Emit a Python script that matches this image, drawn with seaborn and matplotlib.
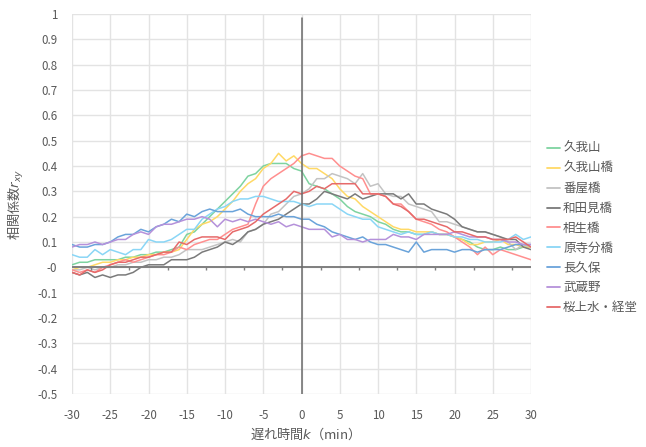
import numpy as np
import pandas as pd
import matplotlib
matplotlib.use("Agg")
import matplotlib.pyplot as plt
import seaborn as sns

lags = list(range(-30, 31))

series_names = ["久我山", "久我山橋", "番屋橋", "和田見橋", "相生橋", "原寺分橋", "長久保", "武蔵野", "桜上水・経堂"]

kugayama = [0.01, 0.02, 0.02, 0.03, 0.03, 0.03, 0.03, 0.04, 0.04, 0.05, 0.05, 0.06, 0.06, 0.07, 0.08,
            0.13, 0.14, 0.17, 0.20, 0.23, 0.26, 0.29, 0.32, 0.36, 0.37, 0.40, 0.41, 0.41, 0.41, 0.39,
            0.38,
            0.33, 0.32, 0.31, 0.29, 0.27, 0.24, 0.22, 0.21, 0.20, 0.18, 0.17, 0.15, 0.14, 0.14, 0.13,
            0.13, 0.14, 0.13, 0.13, 0.12, 0.11, 0.10, 0.08, 0.07, 0.07, 0.08, 0.07, 0.07, 0.08, 0.08]
kugayamabashi = [-0.01, 0.00, 0.00, 0.01, 0.02, 0.02, 0.03, 0.03, 0.04, 0.04, 0.05, 0.05, 0.06, 0.06, 0.07,
                 0.11, 0.15, 0.17, 0.18, 0.20, 0.23, 0.26, 0.30, 0.33, 0.35, 0.39, 0.41, 0.45, 0.42, 0.44,
                 0.41,
                 0.39, 0.39, 0.37, 0.35, 0.31, 0.28, 0.27, 0.24, 0.22, 0.20, 0.18, 0.16, 0.15, 0.15, 0.14,
                 0.14, 0.14, 0.13, 0.13, 0.12, 0.11, 0.09, 0.09, 0.10, 0.10, 0.11, 0.09, 0.09, 0.08, 0.08]
banyabashi = [-0.01, -0.01, 0.00, -0.01, 0.00, 0.00, 0.01, 0.01, 0.02, 0.02, 0.03, 0.03, 0.04, 0.04, 0.05,
              0.07, 0.07, 0.07, 0.08, 0.09, 0.10, 0.11, 0.10, 0.14, 0.15, 0.17, 0.21, 0.22, 0.25, 0.28,
              0.29,
              0.31, 0.35, 0.35, 0.37, 0.36, 0.35, 0.33, 0.37, 0.32, 0.33, 0.29, 0.28, 0.28, 0.25, 0.24,
              0.23, 0.22, 0.18, 0.18, 0.17, 0.16, 0.15, 0.14, 0.14, 0.13, 0.12, 0.10, 0.07, 0.09, 0.08]
wadamibashi = [-0.02, -0.03, -0.02, -0.04, -0.03, -0.04, -0.03, -0.03, -0.02, 0.00, 0.01, 0.01, 0.01, 0.03, 0.03,
               0.03, 0.04, 0.06, 0.07, 0.08, 0.10, 0.09, 0.11, 0.14, 0.15, 0.17, 0.18, 0.19, 0.21, 0.23,
               0.25,
               0.25, 0.27, 0.30, 0.29, 0.28, 0.27, 0.29, 0.27, 0.28, 0.29, 0.29, 0.29, 0.27, 0.29, 0.25,
               0.25, 0.23, 0.22, 0.21, 0.19, 0.16, 0.15, 0.14, 0.14, 0.13, 0.12, 0.11, 0.11, 0.08, 0.07]
aioibashi = [-0.01, -0.02, -0.01, -0.02, 0.00, 0.01, 0.02, 0.03, 0.02, 0.03, 0.04, 0.05, 0.05, 0.06, 0.08,
             0.07, 0.09, 0.10, 0.11, 0.11, 0.13, 0.15, 0.16, 0.17, 0.25, 0.32, 0.35, 0.37, 0.39, 0.41,
             0.44,
             0.45, 0.44, 0.43, 0.43, 0.40, 0.38, 0.36, 0.35, 0.29, 0.29, 0.28, 0.25, 0.25, 0.22, 0.19,
             0.18, 0.17, 0.15, 0.14, 0.12, 0.10, 0.08, 0.05, 0.08, 0.05, 0.07, 0.06, 0.05, 0.04, 0.03]
haradera = [0.05, 0.04, 0.04, 0.07, 0.05, 0.07, 0.06, 0.05, 0.07, 0.07, 0.11, 0.10, 0.10, 0.11, 0.13,
            0.15, 0.15, 0.19, 0.21, 0.23, 0.24, 0.26, 0.27, 0.27, 0.28, 0.28, 0.27, 0.26, 0.26, 0.26,
            0.25,
            0.24, 0.25, 0.25, 0.25, 0.23, 0.21, 0.20, 0.19, 0.19, 0.16, 0.15, 0.14, 0.13, 0.14, 0.13,
            0.13, 0.14, 0.13, 0.13, 0.12, 0.12, 0.11, 0.11, 0.10, 0.10, 0.10, 0.11, 0.13, 0.11, 0.12]
nagakubo = [0.09, 0.08, 0.08, 0.09, 0.09, 0.10, 0.12, 0.13, 0.13, 0.15, 0.14, 0.16, 0.17, 0.19, 0.18,
            0.21, 0.20, 0.22, 0.23, 0.22, 0.22, 0.22, 0.23, 0.21, 0.20, 0.20, 0.20, 0.21, 0.20, 0.20,
            0.19,
            0.19, 0.17, 0.16, 0.14, 0.13, 0.12, 0.11, 0.12, 0.10, 0.09, 0.09, 0.08, 0.07, 0.06, 0.10,
            0.06, 0.07, 0.07, 0.07, 0.06, 0.07, 0.07, 0.06, 0.07, 0.07, 0.07, 0.08, 0.09, 0.09, 0.09]
musashino = [0.08, 0.09, 0.09, 0.10, 0.09, 0.10, 0.11, 0.11, 0.13, 0.14, 0.13, 0.16, 0.17, 0.17, 0.18,
             0.19, 0.19, 0.20, 0.19, 0.16, 0.19, 0.18, 0.19, 0.18, 0.19, 0.18, 0.17, 0.18, 0.16, 0.17,
             0.16,
             0.15, 0.15, 0.15, 0.12, 0.13, 0.11, 0.11, 0.10, 0.11, 0.11, 0.11, 0.13, 0.12, 0.12, 0.11,
             0.13, 0.13, 0.13, 0.13, 0.14, 0.13, 0.12, 0.12, 0.12, 0.11, 0.11, 0.10, 0.10, 0.09, 0.09]
sakurajosui = [-0.02, -0.03, -0.01, -0.02, -0.01, 0.01, 0.02, 0.02, 0.03, 0.04, 0.04, 0.05, 0.06, 0.06, 0.10,
               0.09, 0.11, 0.12, 0.12, 0.12, 0.11, 0.14, 0.15, 0.16, 0.18, 0.21, 0.23, 0.25, 0.27, 0.30,
               0.29,
               0.30, 0.32, 0.31, 0.33, 0.33, 0.33, 0.33, 0.29, 0.29, 0.29, 0.28, 0.25, 0.24, 0.22, 0.19,
               0.19, 0.18, 0.17, 0.16, 0.14, 0.14, 0.13, 0.12, 0.12, 0.11, 0.11, 0.11, 0.12, 0.10, 0.08]

series_values = [kugayama, kugayamabashi, banyabashi, wadamibashi, aioibashi,
                 haradera, nagakubo, musashino, sakurajosui]

colors = ["#7ED3A0", "#FFD966", "#C3C3C3", "#7A7A7A", "#FF8F8F",
          "#8AD6F6", "#6AA3DA", "#B591DA", "#E66A6A"]

x_ticks = list(range(-30, 31, 5))
y_ticks = [round(v, 1) for v in np.arange(-0.5, 1.01, 0.1)]

rows = []
for name, vals in zip(series_names, series_values):
    for k, v in zip(lags, vals):
        rows.append({"lag": k, "r": v, "site": name})
df = pd.DataFrame(rows)

sns.set_style("white")
plt.rcParams["font.family"] = ["Noto Sans CJK JP", "DejaVu Sans"]
plt.rcParams["mathtext.fontset"] = "dejavusans"
plt.rcParams["axes.unicode_minus"] = False

fig = plt.figure(figsize=(6.46, 4.47), dpi=100)
ax = fig.add_axes([72 / 646, 53 / 447, 459 / 646, 380 / 447])

palette = dict(zip(series_names, colors))
sns.lineplot(data=df, x="lag", y="r", hue="site", hue_order=series_names,
             palette=palette, linewidth=1.1, ax=ax, legend=True, zorder=3)

ax.set_xlim(-30, 30)
ax.set_ylim(-0.5, 1.0)
ax.set_xticks(x_ticks)
ax.set_yticks(y_ticks)
ax.set_xticklabels([str(v) for v in x_ticks])
ax.set_yticklabels([f"{v:g}" for v in y_ticks])
ax.grid(True, color="#E3E3E3", linewidth=1.0, zorder=0)
for s in ax.spines.values():
    s.set_visible(False)
ax.tick_params(axis="both", length=0, labelsize=8.3, colors="#595959")
ax.tick_params(axis="x", pad=10.5)
ax.tick_params(axis="y", pad=10.5)

ax.axhline(0, color="#7F7F7F", linewidth=1.4, zorder=4)
ax.axvline(0, color="#6A6A6A", linewidth=1.1, ymax=0.99, zorder=4)
minor = np.arange(-27.5, 30, 5)
ax.vlines(minor, -0.012, 0, color="#7F7F7F", linewidth=1.0, zorder=4)

ax.set_xlabel("遅れ時間$k$（min）", fontsize=9.5, color="#595959", labelpad=3)
ax.set_ylabel("相関係数$r_{xy}$", fontsize=9.5, color="#595959", labelpad=8)

handles, labels = ax.get_legend_handles_labels()
leg = ax.legend(handles, labels, loc="center left", bbox_to_anchor=(1.025, 0.436),
                frameon=False, fontsize=9, handlelength=1.0, handletextpad=0.25,
                labelspacing=0.55, borderaxespad=0)
for t in leg.get_texts():
    t.set_color("#595959")
for h in leg.get_lines():
    h.set_linewidth(1.3)

fig.savefig("out.png", dpi=100)
